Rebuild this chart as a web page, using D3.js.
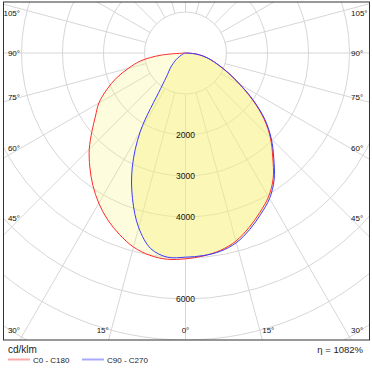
<!DOCTYPE html>
<html lang="en">
<head>
<meta charset="UTF-8">
<script src="https://d3js.org/d3.v7.min.js"></script>
<style>
  body { margin: 0; background: #fff; }
  svg { font-family: "Liberation Sans", Arial, sans-serif; }
</style>
</head>
<body>
<div id="polar_chart"></div>
<script>
// gamma angles (deg from nadir) and intensities in cd/klm
const gamma = [0, 5, 10, 15, 20, 25, 30, 35, 40, 45, 50, 55, 60, 65, 70, 75, 80, 85, 90];
const c0   = [5020, 4970, 4890, 4750, 4530, 4290, 4050, 3730, 3310, 2930, 2500, 2000, 1520, 1150, 850, 640, 440, 240, 0];
const c180 = [5050, 5050, 5010, 4900, 4710, 4490, 4230, 3940, 3630, 3320, 2980, 2680, 2440, 2120, 1800, 1440, 1110, 600, 0];
const c90  = [4980, 4960, 4910, 4790, 4580, 4340, 4100, 3770, 3350, 2960, 2530, 2030, 1540, 1160, 860, 640, 440, 240, 0];
const c270 = [5020, 5000, 4850, 4410, 3780, 3070, 2200, 1050, 680, 530, 390, 270, 170, 100, 50, 30, 15, 5, 0];

const ringValues = [1000, 2000, 3000, 4000, 5000, 6000, 7000, 8000];
const ringLabels = [2000, 3000, 4000, 6000];
const spokeAngles = [0, 15, 30, 45, 60, 75, 90, 105, 120, 135, 150, 165, 180, 195, 210, 225, 240, 255, 270, 285, 300, 315, 330, 345];
const sideLabelAngles = [30, 45, 60, 75, 90, 105];
const bottomLabelAngles = [0, 15];
const unitLabel = "cd/klm";
const seriesNames = ["C0 - C180", "C90 - C270"];
const efficiencyLabel = "\u03b7 = 1082%";

const width = 372, height = 370;
const cx = 185.5, cy = 53;
const frame = { x0: 3.5, y0: 2, x1: 369.5, y1: 340 };

const r = d3.scaleLinear().domain([0, 1000]).range([0, 41]);
const rad = a => a * Math.PI / 180;

const svg = d3.select("#polar_chart")
  .append("svg")
  .attr("width", width)
  .attr("height", height);

svg.append("clipPath")
  .attr("id", "frameClip")
  .append("rect")
  .attr("x", frame.x0).attr("y", frame.y0)
  .attr("width", frame.x1 - frame.x0).attr("height", frame.y1 - frame.y0);

const plot = svg.append("g").attr("clip-path", "url(#frameClip)");
const g = plot.append("g").attr("transform", `translate(${cx},${cy})`);

// grid
g.selectAll(".ring")
  .data(ringValues)
  .enter()
  .append("circle")
    .attr("r", d => r(d))
    .attr("fill", "none")
    .attr("stroke", "#d6d6d6");

g.selectAll(".spoke")
  .data(spokeAngles)
  .enter()
  .append("line")
    .attr("x1", d => r(1000) * Math.sin(rad(d)))
    .attr("y1", d => r(1000) * Math.cos(rad(d)))
    .attr("x2", d => r(9000) * Math.sin(rad(d)))
    .attr("y2", d => r(9000) * Math.cos(rad(d)))
    .attr("stroke", "#d6d6d6");

// one C-plane: right half then left half, both ending in the centre
function planePoints(right, left) {
  const pts = [];
  for (let i = gamma.length - 1; i >= 0; i--) pts.push([Math.PI - rad(gamma[i]), right[i]]);
  for (let i = 1; i < gamma.length; i++) pts.push([Math.PI + rad(gamma[i]), left[i]]);
  return pts;
}

const line = d3.lineRadial()
  .angle(d => d[0])
  .radius(d => r(d[1]))
  .curve(d3.curveCatmullRom.alpha(0.5));

const redPts = planePoints(c0, c180);
const bluePts = planePoints(c90, c270);

g.append("path").attr("d", line(redPts))
  .attr("fill", "rgb(248,242,120)").attr("fill-opacity", 0.25).attr("stroke", "none");
g.append("path").attr("d", line(bluePts))
  .attr("fill", "rgb(248,242,120)").attr("fill-opacity", 0.37).attr("stroke", "none");

g.selectAll(".ringlabel")
  .data(ringLabels)
  .enter()
  .append("text")
    .attr("x", 0)
    .attr("y", d => r(d))
    .attr("dy", "0.35em")
    .attr("text-anchor", "middle")
    .attr("font-size", "8.5px")
    .attr("fill", "#111")
    .text(d => d);

g.append("path").attr("d", line(redPts))
  .attr("fill", "none").attr("stroke", "#ff2b2b").attr("stroke-width", 1);
g.append("path").attr("d", line(bluePts))
  .attr("fill", "none").attr("stroke", "#3b3bff").attr("stroke-width", 1);

// frame
svg.append("rect")
  .attr("x", frame.x0).attr("y", frame.y0)
  .attr("width", frame.x1 - frame.x0).attr("height", frame.y1 - frame.y0)
  .attr("fill", "none")
  .attr("stroke", "#333");

// angle labels
const lab = svg.append("g").attr("font-size", "8px").attr("fill", "#111");
const inset = 16.5;
[-1, 1].forEach(s => {
  sideLabelAngles.forEach(a => {
    const t = (cx - frame.x0 - inset) / Math.sin(rad(a));
    const y = Math.max(13, Math.min(330, cy + t * Math.cos(rad(a))));
    lab.append("text")
      .attr("x", cx + s * (cx - frame.x0 - inset))
      .attr("y", y)
      .attr("dy", "0.35em")
      .attr("text-anchor", s < 0 ? "end" : "start")
      .text(a + "\u00b0");
  });
  bottomLabelAngles.forEach(a => {
    if (a === 0 && s > 0) return;
    const x = cx + s * (330 - cy) * Math.tan(rad(a));
    lab.append("text")
      .attr("x", a === 0 ? x : x + s * 2.5)
      .attr("y", 330)
      .attr("dy", "0.35em")
      .attr("text-anchor", a === 0 ? "middle" : (s < 0 ? "end" : "start"))
      .text(a + "\u00b0");
  });
});

// legend
svg.append("text")
  .attr("x", 8).attr("y", 353)
  .attr("font-size", "10px").attr("fill", "#222")
  .text(unitLabel);

svg.append("text")
  .attr("x", 363).attr("y", 353)
  .attr("text-anchor", "end")
  .attr("font-size", "9.5px").attr("fill", "#222")
  .text(efficiencyLabel);

const legendColors = ["#ffa8a8", "#a8a8ff"];
const legendX = [8, 82];
seriesNames.forEach((name, i) => {
  svg.append("line")
    .attr("x1", legendX[i]).attr("x2", legendX[i] + 22)
    .attr("y1", 359.5).attr("y2", 359.5)
    .attr("stroke", legendColors[i]).attr("stroke-width", 2);
  svg.append("text")
    .attr("x", legendX[i] + 25).attr("y", 362.5)
    .attr("font-size", "8px").attr("fill", "#222")
    .text(name);
});
</script>
</body>
</html>
